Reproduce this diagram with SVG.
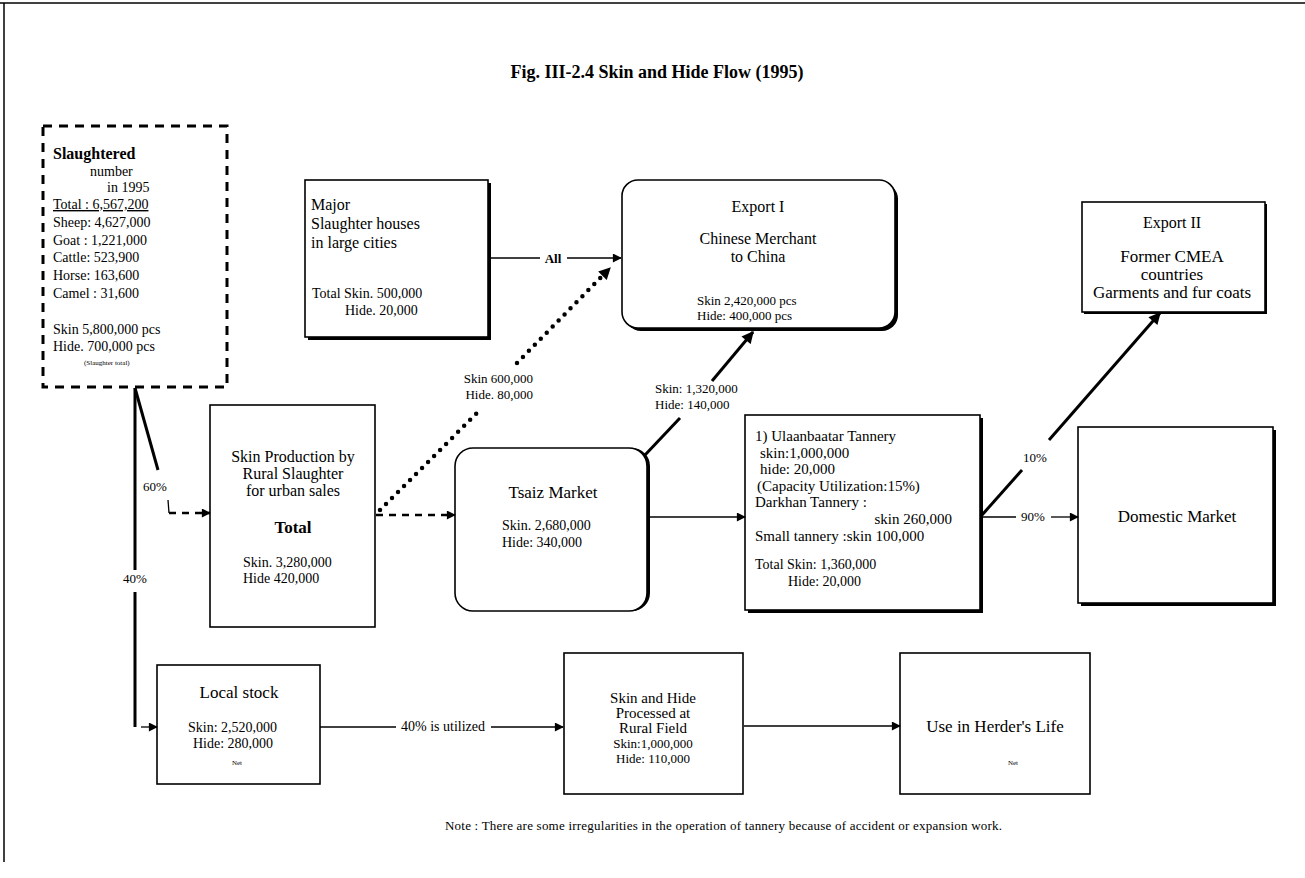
<svg xmlns="http://www.w3.org/2000/svg" width="1305" height="878" viewBox="0 0 1305 878">
<defs>
<marker id="ah" viewBox="0 0 10 10" refX="9" refY="5" markerWidth="11" markerHeight="9" markerUnits="userSpaceOnUse" orient="auto">
<path d="M0,0 L10,5 L0,10 z" fill="#000"/>
</marker>
<marker id="ahb" viewBox="0 0 10 10" refX="9" refY="5" markerWidth="14" markerHeight="12" markerUnits="userSpaceOnUse" orient="auto">
<path d="M0,0 L10,5 L0,10 z" fill="#000"/>
</marker>
</defs>
<style>
text{font-family:"Liberation Serif","Times New Roman",serif;fill:#000}
.t{font-size:16px}
.tk{font-size:15px}
.n{font-size:14px}
.s{font-size:13px}
.xs{font-size:7px}
.b{font-weight:bold}
.m{text-anchor:middle}
.e{text-anchor:end}
.box{fill:#fff;stroke:#000;stroke-width:1.6}
.sh{fill:#000}
.ln{fill:none;stroke:#000;stroke-width:1.3}
.thick{fill:none;stroke:#000;stroke-width:3}
.dash{fill:none;stroke:#000;stroke-width:2.5;stroke-dasharray:7 6}
.dot{fill:none;stroke:#000;stroke-width:4.5;stroke-linecap:round;stroke-dasharray:0 8.5}
</style>
<rect x="0" y="0" width="1305" height="878" fill="#fff"/>
<g id="frame">
<line x1="0" y1="3" x2="1305" y2="3" stroke="#000" stroke-width="1.5"/>
<line x1="4" y1="3" x2="4" y2="862" stroke="#000" stroke-width="1.5"/>
</g>
<text x="657" y="78" class="m b" style="font-size:18px">Fig. III-2.4  Skin and Hide Flow  (1995)</text>

<g id="slaughtered">
<rect x="43" y="126" width="184" height="261" fill="#fff" stroke="#000" stroke-width="3" stroke-dasharray="9 7"/>
<text x="53" y="159" class="b" style="font-size:16px">Slaughtered</text>
<text x="90" y="176" style="font-size:14px">number</text>
<text x="107" y="192" class="n">in 1995</text>
<text x="53" y="209" class="n" text-decoration="underline">Total : 6,567,200</text>
<text x="53" y="227" class="n">Sheep: 4,627,000</text>
<text x="53" y="245" class="n">Goat : 1,221,000</text>
<text x="53" y="262" class="n">Cattle:   523,900</text>
<text x="53" y="280" class="n">Horse:   163,600</text>
<text x="53" y="298" class="n">Camel :    31,600</text>
<text x="53" y="334" class="n">Skin 5,800,000 pcs</text>
<text x="53" y="351" class="n">Hide.  700,000 pcs</text>
<text x="84" y="365" class="xs">(Slaughter total)</text>
</g>

<g id="major">
<rect x="308" y="183" width="183" height="157" class="sh"/>
<rect x="305" y="180" width="183" height="157" class="box"/>
<text x="311" y="210" class="t">Major</text>
<text x="311" y="229" class="t">Slaughter houses</text>
<text x="311" y="248" class="t">in large cities</text>
<text x="312" y="298" class="n">Total Skin. 500,000</text>
<text x="345" y="315" class="n">Hide.  20,000</text>
</g>

<g id="export1">
<rect x="625" y="183" width="273" height="148" rx="16" class="sh"/>
<rect x="622" y="180" width="273" height="148" rx="16" class="box"/>
<text x="758" y="212" class="t m">Export I</text>
<text x="758" y="244" class="t m">Chinese Merchant</text>
<text x="758" y="262" class="t m">to China</text>
<text x="697" y="305" class="s">Skin 2,420,000 pcs</text>
<text x="697" y="320" class="s">Hide:   400,000 pcs</text>
</g>

<g id="export2">
<rect x="1084" y="204" width="183" height="110" class="sh"/>
<rect x="1082" y="202" width="183" height="110" class="box"/>
<text x="1172" y="228" class="t m">Export II</text>
<text x="1172" y="262" class="m" style="font-size:17px">Former CMEA</text>
<text x="1172" y="280" class="m" style="font-size:17px">countries</text>
<text x="1172" y="298" class="m" style="font-size:17px">Garments and fur coats</text>
</g>

<g id="skinprod">
<rect x="210" y="405" width="165" height="222" class="box" stroke-width="2.2"/>
<text x="293" y="462" class="t m">Skin Production by</text>
<text x="293" y="479" class="t m">Rural Slaughter</text>
<text x="293" y="496" class="t m">for urban sales</text>
<text x="293" y="533" class="m b" style="font-size:17px">Total</text>
<text x="243" y="567" class="n">Skin.  3,280,000</text>
<text x="243" y="583" class="n">Hide      420,000</text>
</g>

<g id="tsaiz">
<rect x="458" y="448" width="192" height="163" rx="18" class="sh"/>
<rect x="455" y="448" width="192" height="163" rx="18" class="box"/>
<text x="553" y="498" class="t m" style="font-size:17px">Tsaiz Market</text>
<text x="502" y="530" class="n">Skin.  2,680,000</text>
<text x="502" y="547" class="n">Hide:     340,000</text>
</g>

<g id="tannery">
<rect x="748" y="418" width="235" height="195" class="sh"/>
<rect x="745" y="415" width="235" height="195" class="box"/>
<text x="755" y="441" class="tk">1) Ulaanbaatar Tannery</text>
<text x="760" y="458" class="tk">skin:1,000,000</text>
<text x="760" y="474" class="tk">hide:    20,000</text>
<text x="757" y="491" class="tk">(Capacity Utilization:15%)</text>
<text x="755" y="507" class="tk">Darkhan Tannery :</text>
<text x="952" y="524" class="tk e">skin 260,000</text>
<text x="755" y="541" class="tk">Small tannery :skin 100,000</text>
<text x="755" y="569" class="n">Total Skin: 1,360,000</text>
<text x="788" y="586" class="n">Hide:   20,000</text>
</g>

<g id="domestic">
<rect x="1081" y="430" width="195" height="176" class="sh"/>
<rect x="1078" y="427" width="195" height="176" class="box"/>
<text x="1177" y="522" class="m" style="font-size:17px">Domestic Market</text>
</g>

<g id="localstock">
<rect x="157" y="665" width="163" height="119" class="box" stroke-width="2"/>
<text x="239" y="698" class="m" style="font-size:17px">Local stock</text>
<text x="188" y="732" class="n">Skin:  2,520,000</text>
<text x="193" y="748" class="n">Hide:   280,000</text>
<text x="237" y="765" class="xs m">Net</text>
</g>

<g id="rural">
<rect x="564" y="653" width="179" height="141" class="box" stroke-width="2"/>
<text x="653" y="703" class="m tk">Skin and Hide</text>
<text x="653" y="718" class="m tk">Processed at</text>
<text x="653" y="733" class="m tk">Rural Field</text>
<text x="653" y="748" class="m s">Skin:1,000,000</text>
<text x="653" y="763" class="m s">Hide:    110,000</text>
</g>

<g id="herder">
<rect x="900" y="653" width="190" height="141" class="box"/>
<text x="995" y="732" class="m" style="font-size:17px">Use in Herder's Life</text>
<text x="1013" y="765" class="xs m">Net</text>
</g>

<g id="connectors">
<path d="M135,388 V570 M135,592 V727" class="thick" stroke-width="2.5"/>
<path d="M141,727 H157" class="ln" marker-end="url(#ah)"/>
<path d="M135,388 L158,470" class="thick" stroke-width="2.5"/>
<path d="M168,500 L169,513" class="ln" stroke-width="2"/>
<path d="M169,513 H210" class="dash" marker-end="url(#ah)"/>
<path d="M376,515 H455" class="dash" marker-end="url(#ah)"/>
<path d="M380,510 L482,408" class="dot"/>
<path d="M517,363 L610,268" class="dot" marker-end="url(#ahb)"/>
<path d="M488,258 H540" class="ln"/>
<path d="M567,258 H621" class="ln" marker-end="url(#ah)"/>
<path d="M645,455 L680,418" class="thick"/>
<path d="M712,381 L753,332" class="thick" marker-end="url(#ahb)"/>
<path d="M647,517 H745" class="ln" marker-end="url(#ah)"/>
<path d="M982,515 L1022,470" class="thick"/>
<path d="M1049,440 L1160,313" class="thick" marker-end="url(#ahb)"/>
<path d="M982,517 H1016" class="ln"/>
<path d="M1051,517 H1078" class="ln" marker-end="url(#ah)"/>
<path d="M320,727 H396" class="ln"/>
<path d="M491,727 H563" class="ln" marker-end="url(#ah)"/>
<path d="M744,726 H900" class="ln" marker-end="url(#ah)"/>
<text x="135" y="583" class="s m">40%</text>
<text x="155" y="491" class="s m">60%</text>
<text x="533" y="383" class="s e">Skin 600,000</text>
<text x="533" y="399" class="s e">Hide. 80,000</text>
<text x="553" y="263" class="s m b">All</text>
<text x="655" y="393" class="s">Skin: 1,320,000</text>
<text x="655" y="409" class="s">Hide:   140,000</text>
<text x="1035" y="462" class="s m">10%</text>
<text x="1033" y="521" class="s m">90%</text>
<text x="443" y="731" class="n m">40% is utilized</text>
</g>
<text x="445" y="830" class="s" textLength="557" lengthAdjust="spacing">Note : There are some irregularities in the operation of tannery because of accident or expansion work.</text>
</svg>
